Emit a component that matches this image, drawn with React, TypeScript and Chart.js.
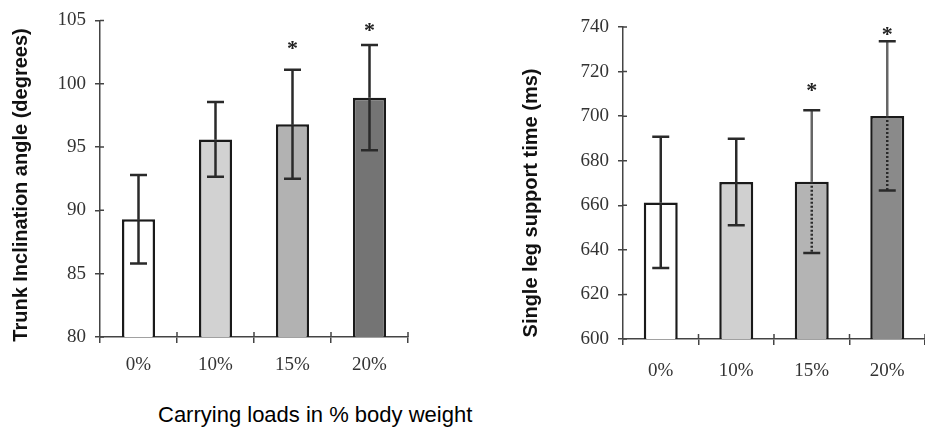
import React, { useEffect, useRef } from 'react';
import { Chart, registerables } from 'chart.js';
Chart.register(...registerables);

const categories = ['0%', '10%', '15%', '20%'];

const trunkMeans = [89.3, 95.6, 96.8, 98.9];
const trunkSD = [3.5, 2.95, 4.3, 4.15];
const trunkStars: (number | null)[] = [null, null, 103.2, 104.6];
const trunkMin = 80;
const trunkMax = 105;
const trunkStep = 5;

const supportMeans = [661.3, 670.4, 670.6, 700.1];
const supportSD = [29.4, 19.4, 32, 33.5];
const supportStars: (number | null)[] = [null, null, 714, 739];
const supportMin = 600;
const supportMax = 740;
const supportStep = 20;

const trunkTitle = 'Trunk Inclination angle (degrees)';
const supportTitle = 'Single leg support time (ms)';
const caption = 'Carrying loads in % body weight';

const SERIF = "'Liberation Serif', 'Times New Roman', serif";
const SANS = "'Liberation Sans', Arial, sans-serif";

const errorBarPlugin = {
  id: 'errorBars',
  afterDatasetsDraw(chart: any, _args: any, opts: any) {
    const meta = chart.getDatasetMeta(0);
    const y = chart.scales.y;
    const ctx = chart.ctx;
    ctx.save();
    meta.data.forEach((bar: any, i: number) => {
      const m = opts.means[i];
      const s = opts.sd[i];
      const x = bar.x;
      const yTop = y.getPixelForValue(m + s);
      const yBot = y.getPixelForValue(m - s);
      const yMean = y.getPixelForValue(m);
      ctx.lineWidth = opts.width;
      ctx.strokeStyle = opts.upperColor[i];
      ctx.beginPath();
      ctx.moveTo(x, yMean);
      ctx.lineTo(x, yTop);
      ctx.stroke();
      ctx.strokeStyle = opts.color;
      if (opts.innerDash[i]) ctx.setLineDash([2, 2]);
      ctx.beginPath();
      ctx.moveTo(x, yMean);
      ctx.lineTo(x, yBot);
      ctx.stroke();
      ctx.setLineDash([]);
      ctx.beginPath();
      ctx.moveTo(x - opts.cap, yTop);
      ctx.lineTo(x + opts.cap, yTop);
      ctx.moveTo(x - opts.cap, yBot);
      ctx.lineTo(x + opts.cap, yBot);
      ctx.stroke();
      const st = opts.stars[i];
      if (st !== null && st !== undefined) {
        const sy = y.getPixelForValue(st);
        ctx.fillStyle = '#222';
        ctx.font = `bold 22px ${SERIF}`;
        ctx.textAlign = 'center';
        ctx.textBaseline = 'alphabetic';
        ctx.fillText('*', x, sy + 12);
      }
    });
    ctx.restore();
  },
};

const decorPlugin = {
  id: 'decor',
  afterDraw(chart: any, _args: any, opts: any) {
    const ctx = chart.ctx;
    const { left, bottom } = chart.chartArea;
    const y = chart.scales.y;
    const x = chart.scales.x;
    ctx.save();
    ctx.strokeStyle = '#444';
    ctx.lineWidth = 1.5;
    ctx.beginPath();
    y.ticks.forEach((_t: any, i: number) => {
      const py = y.getPixelForTick(i);
      ctx.moveTo(left, py);
      ctx.lineTo(left + 4, py);
    });
    const n = chart.data.labels.length;
    for (let i = 1; i <= n; i++) {
      const px = x.left + (i * (x.right - x.left)) / n;
      ctx.moveTo(px, bottom);
      ctx.lineTo(px, bottom - 5);
    }
    ctx.stroke();
    // rotated y title
    ctx.fillStyle = '#111';
    ctx.font = `bold 20px ${SANS}`;
    ctx.textAlign = 'center';
    ctx.textBaseline = 'middle';
    ctx.translate(opts.titleX, opts.titleY);
    ctx.rotate(-Math.PI / 2);
    ctx.fillText(opts.title, 0, 0);
    ctx.restore();
  },
};

function makeConfig(p: {
  means: number[];
  sd: number[];
  stars: (number | null)[];
  min: number;
  max: number;
  step: number;
  colors: string[];
  barPct: number;
  yWidth: number;
  xHeight: number;
  padTop: number;
  padRight: number;
  xPad: number;
  title: string;
  titleX: number;
  titleY: number;
  innerDash: boolean[];
  upperColor: string[];
  errColor: string;
}): any {
  return {
    type: 'bar',
    data: {
      labels: categories,
      datasets: [
        {
          data: p.means,
          backgroundColor: p.colors,
          borderColor: '#1a1a1a',
          borderWidth: 2.5,
          barPercentage: p.barPct,
          categoryPercentage: 1,
        },
      ],
    },
    options: {
      responsive: false,
      animation: false,
      layout: { padding: { left: 0, top: p.padTop, right: p.padRight, bottom: 0 } },
      plugins: {
        legend: { display: false },
        tooltip: { enabled: false },
        errorBars: {
          means: p.means,
          sd: p.sd,
          stars: p.stars,
          cap: 8.5,
          width: 2.5,
          color: p.errColor,
          upperColor: p.upperColor,
          innerDash: p.innerDash,
        },
        decor: { title: p.title, titleX: p.titleX, titleY: p.titleY },
      },
      scales: {
        x: {
          grid: { display: true, drawOnChartArea: false, color: '#444', lineWidth: 1.5, tickLength: 6 },
          border: { display: true, color: '#444', width: 1.5 },
          ticks: { color: '#333', font: { family: SERIF, size: 19 }, padding: p.xPad, maxRotation: 0 },
          afterFit: (s: any) => {
            s.height = p.xHeight;
          },
        },
        y: {
          min: p.min,
          max: p.max,
          grid: { display: true, drawOnChartArea: false, color: '#444', lineWidth: 1.5, tickLength: 5 },
          border: { display: true, color: '#444', width: 1.5 },
          ticks: { stepSize: p.step, color: '#333', font: { family: SERIF, size: 19 }, padding: 9 },
          afterFit: (s: any) => {
            s.width = p.yWidth;
          },
        },
      },
    },
    plugins: [errorBarPlugin, decorPlugin],
  };
}

export default function App() {
  const leftRef = useRef<HTMLCanvasElement | null>(null);
  const rightRef = useRef<HTMLCanvasElement | null>(null);

  useEffect(() => {
    const left = new Chart(
      leftRef.current as HTMLCanvasElement,
      makeConfig({
        means: trunkMeans,
        sd: trunkSD,
        stars: trunkStars,
        min: trunkMin,
        max: trunkMax,
        step: trunkStep,
        colors: ['#ffffff', '#d2d2d2', '#b2b2b2', '#747474'],
        barPct: 0.43,
        yWidth: 100,
        xHeight: 48,
        padTop: 20,
        padRight: 52,
        xPad: 11,
        title: trunkTitle,
        titleX: 21,
        titleY: 185,
        innerDash: [false, false, false, false],
        upperColor: ['#2a2a2a', '#2a2a2a', '#2a2a2a', '#2a2a2a'],
        errColor: '#2a2a2a',
      })
    );
    const right = new Chart(
      rightRef.current as HTMLCanvasElement,
      makeConfig({
        means: supportMeans,
        sd: supportSD,
        stars: supportStars,
        min: supportMin,
        max: supportMax,
        step: supportStep,
        colors: ['#ffffff', '#d0d0d0', '#b4b4b4', '#8a8a8a'],
        barPct: 0.45,
        yWidth: 163,
        xHeight: 46,
        padTop: 27,
        padRight: 0,
        xPad: 15,
        title: supportTitle,
        titleX: 71,
        titleY: 203,
        innerDash: [false, false, true, true],
        upperColor: ['#2a2a2a', '#2a2a2a', '#666666', '#666666'],
        errColor: '#2a2a2a',
      })
    );
    return () => {
      left.destroy();
      right.destroy();
    };
  }, []);

  return (
    <div
      style={{
        position: 'absolute',
        left: 0,
        top: 0,
        width: 925,
        height: 433,
        overflow: 'hidden',
        background: '#ffffff',
      }}
    >
      <canvas
        ref={leftRef}
        width={460}
        height={385}
        style={{ position: 'absolute', left: 0, top: 0, width: 460, height: 385 }}
      />
      <canvas
        ref={rightRef}
        width={465}
        height={385}
        style={{ position: 'absolute', left: 460, top: 0, width: 465, height: 385 }}
      />
      <div
        style={{
          position: 'absolute',
          left: 158,
          top: 404,
          fontFamily: SANS,
          fontSize: 22,
          lineHeight: '22px',
          color: '#000',
          whiteSpace: 'nowrap',
        }}
      >
        {caption}
      </div>
    </div>
  );
}
